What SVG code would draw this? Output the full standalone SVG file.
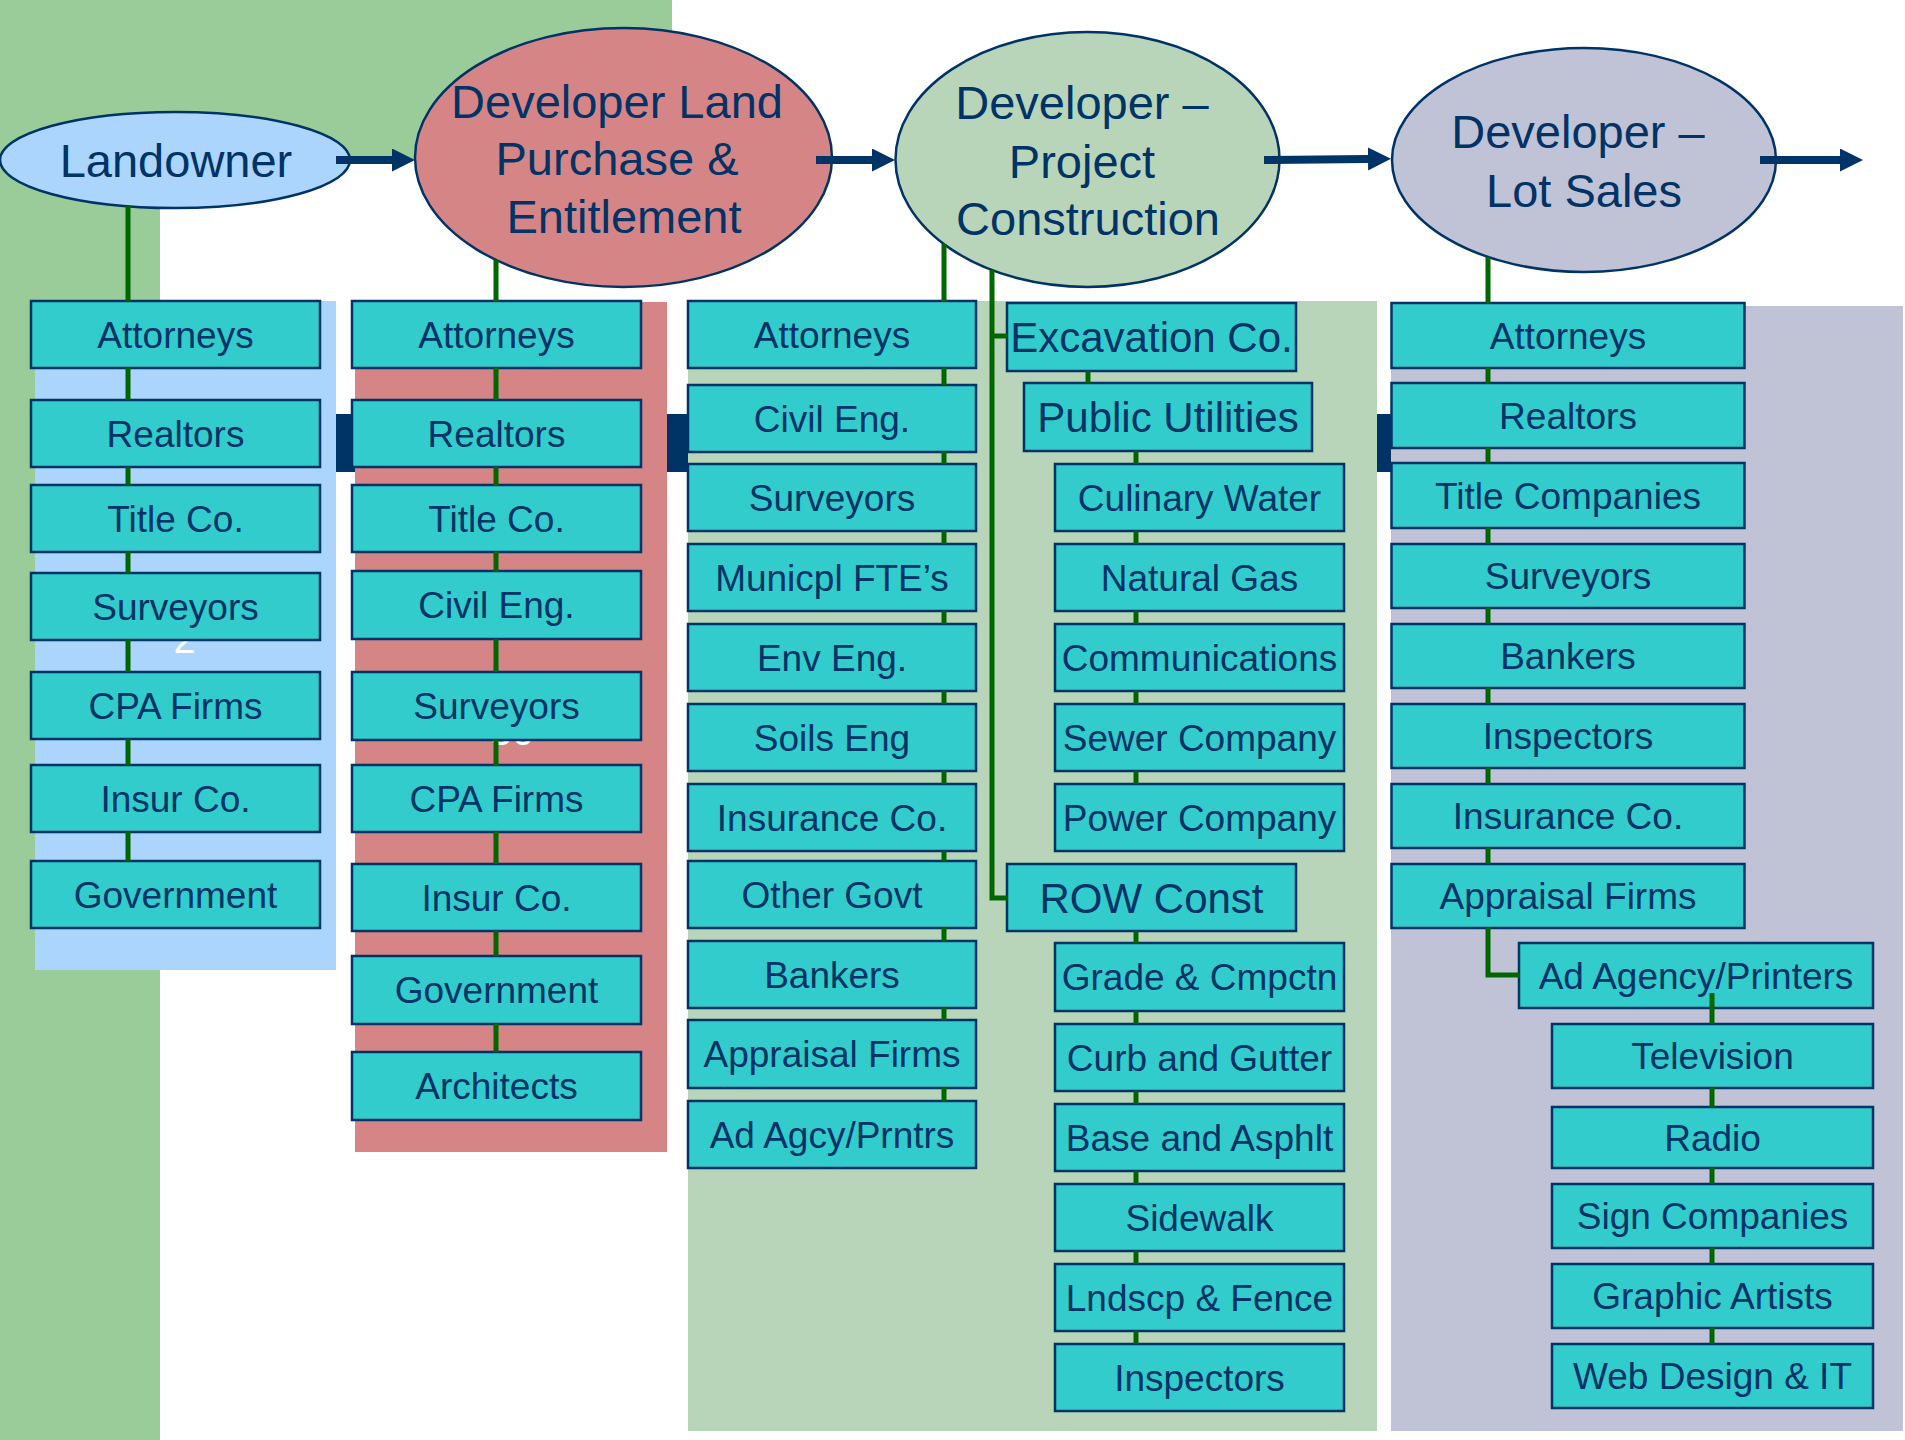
<svg xmlns="http://www.w3.org/2000/svg" width="1905" height="1440" viewBox="0 0 1905 1440">
<style>
.box{fill:#33CCCC;stroke:#003366;stroke-width:2.5}
.t{font-family:"Liberation Sans",Arial,sans-serif;font-size:37px;fill:#003366;text-anchor:middle}
.tb{font-size:42px}
.et{font-size:47px}
.ell{stroke:#003366;stroke-width:2.5}
.conn{stroke:#006600;stroke-width:5;fill:none}
.arrow{stroke:#003366;stroke-width:8;fill:none;marker-end:url(#ah)}
.ghost{font-family:"Liberation Sans",Arial,sans-serif;font-size:40px;fill:#FFFFFF;text-anchor:middle}
</style>
<defs>
<marker id="ah" markerUnits="userSpaceOnUse" markerWidth="24" markerHeight="24" refX="0" refY="11.5" orient="auto">
<path d="M0,0 L23,11.5 L0,23 Z" fill="#003366"/>
</marker>
</defs>
<g id="background">
<rect x="0" y="0" width="1905" height="1440" fill="#FFFFFF"/>
<path d="M0,0 H672 V160 H172 C162,160 160,190 160,214 V1440 H0 Z" fill="#99CC99"/>
<rect x="336" y="414" width="1056" height="58" fill="#003366"/>
<rect x="35" y="301" width="301" height="669" fill="#ABD5FD"/>
<rect x="355" y="302" width="312" height="850" fill="#D68587"/>
<rect x="688" y="301" width="689" height="1130" fill="#B8D5BA"/>
<rect x="1391" y="306" width="512" height="1125" fill="#C0C2D6"/>
<text class="ghost" x="184.5" y="653">2</text>
<text class="ghost" x="512" y="745">30</text>
</g>
<g id="landowner-col">
<g id="lo-attorneys"><rect class="box" x="31" y="301" width="289" height="67"/><text class="t" x="175.5" y="347.5">Attorneys</text></g>
<g id="lo-realtors"><rect class="box" x="31" y="400" width="289" height="67"/><text class="t" x="175.5" y="446.5">Realtors</text></g>
<g id="lo-title"><rect class="box" x="31" y="485" width="289" height="67"/><text class="t" x="175.5" y="531.5">Title Co.</text></g>
<g id="lo-surveyors"><rect class="box" x="31" y="573" width="289" height="67"/><text class="t" x="175.5" y="619.5">Surveyors</text></g>
<g id="lo-cpa"><rect class="box" x="31" y="672" width="289" height="67"/><text class="t" x="175.5" y="718.5">CPA Firms</text></g>
<g id="lo-insur"><rect class="box" x="31" y="765" width="289" height="67"/><text class="t" x="175.5" y="811.5">Insur Co.</text></g>
<g id="lo-gov"><rect class="box" x="31" y="861" width="289" height="67"/><text class="t" x="175.5" y="907.5">Government</text></g>
</g>
<g id="purchase-col">
<g id="pu-attorneys"><rect class="box" x="352" y="301" width="289" height="67"/><text class="t" x="496.5" y="347.5">Attorneys</text></g>
<g id="pu-realtors"><rect class="box" x="352" y="400" width="289" height="67"/><text class="t" x="496.5" y="446.5">Realtors</text></g>
<g id="pu-title"><rect class="box" x="352" y="485" width="289" height="67"/><text class="t" x="496.5" y="531.5">Title Co.</text></g>
<g id="pu-civil"><rect class="box" x="352" y="571" width="289" height="68"/><text class="t" x="496.5" y="618">Civil Eng.</text></g>
<g id="pu-surveyors"><rect class="box" x="352" y="672" width="289" height="68"/><text class="t" x="496.5" y="719">Surveyors</text></g>
<g id="pu-cpa"><rect class="box" x="352" y="765" width="289" height="67"/><text class="t" x="496.5" y="811.5">CPA Firms</text></g>
<g id="pu-insur"><rect class="box" x="352" y="864" width="289" height="67"/><text class="t" x="496.5" y="910.5">Insur Co.</text></g>
<g id="pu-gov"><rect class="box" x="352" y="956" width="289" height="68"/><text class="t" x="496.5" y="1003">Government</text></g>
<g id="pu-arch"><rect class="box" x="352" y="1052" width="289" height="68"/><text class="t" x="496.5" y="1099">Architects</text></g>
</g>
<g id="construction-col">
<g id="co-attorneys"><rect class="box" x="688" y="301" width="288" height="67"/><text class="t" x="832" y="347.5">Attorneys</text></g>
<g id="co-civil"><rect class="box" x="688" y="385" width="288" height="67"/><text class="t" x="832" y="431.5">Civil Eng.</text></g>
<g id="co-surveyors"><rect class="box" x="688" y="464" width="288" height="67"/><text class="t" x="832" y="510.5">Surveyors</text></g>
<g id="co-municipal"><rect class="box" x="688" y="544" width="288" height="67"/><text class="t" x="832" y="590.5">Municpl FTE’s</text></g>
<g id="co-env"><rect class="box" x="688" y="624" width="288" height="67"/><text class="t" x="832" y="670.5">Env Eng.</text></g>
<g id="co-soils"><rect class="box" x="688" y="704" width="288" height="67"/><text class="t" x="832" y="750.5">Soils Eng</text></g>
<g id="co-insurance"><rect class="box" x="688" y="784" width="288" height="67"/><text class="t" x="832" y="830.5">Insurance Co.</text></g>
<g id="co-govt"><rect class="box" x="688" y="861" width="288" height="67"/><text class="t" x="832" y="907.5">Other Govt</text></g>
<g id="co-bankers"><rect class="box" x="688" y="941" width="288" height="67"/><text class="t" x="832" y="987.5">Bankers</text></g>
<g id="co-appraisal"><rect class="box" x="688" y="1020" width="288" height="68"/><text class="t" x="832" y="1067">Appraisal Firms</text></g>
<g id="co-ad"><rect class="box" x="688" y="1101" width="288" height="67"/><text class="t" x="832" y="1147.5">Ad Agcy/Prntrs</text></g>
<g id="co-excavation"><rect class="box" x="1007" y="303" width="289" height="68"/><text class="t tb" x="1151.5" y="352">Excavation Co.</text></g>
<g id="co-utilities"><rect class="box" x="1024" y="383" width="288" height="68"/><text class="t tb" x="1168" y="432">Public Utilities</text></g>
<g id="co-water"><rect class="box" x="1055" y="464" width="289" height="67"/><text class="t" x="1199.5" y="510.5">Culinary Water</text></g>
<g id="co-gas"><rect class="box" x="1055" y="544" width="289" height="67"/><text class="t" x="1199.5" y="590.5">Natural Gas</text></g>
<g id="co-comm"><rect class="box" x="1055" y="624" width="289" height="67"/><text class="t" x="1199.5" y="670.5">Communications</text></g>
<g id="co-sewer"><rect class="box" x="1055" y="704" width="289" height="67"/><text class="t" x="1199.5" y="750.5">Sewer Company</text></g>
<g id="co-power"><rect class="box" x="1055" y="784" width="289" height="67"/><text class="t" x="1199.5" y="830.5">Power Company</text></g>
<g id="co-row"><rect class="box" x="1007" y="864" width="289" height="67"/><text class="t tb" x="1151.5" y="912.5">ROW Const</text></g>
<g id="co-grade"><rect class="box" x="1055" y="943" width="289" height="68"/><text class="t" x="1199.5" y="990">Grade &amp; Cmpctn</text></g>
<g id="co-curb"><rect class="box" x="1055" y="1024" width="289" height="67"/><text class="t" x="1199.5" y="1070.5">Curb and Gutter</text></g>
<g id="co-base"><rect class="box" x="1055" y="1104" width="289" height="67"/><text class="t" x="1199.5" y="1150.5">Base and Asphlt</text></g>
<g id="co-sidewalk"><rect class="box" x="1055" y="1184" width="289" height="67"/><text class="t" x="1199.5" y="1230.5">Sidewalk</text></g>
<g id="co-landscape"><rect class="box" x="1055" y="1264" width="289" height="67"/><text class="t" x="1199.5" y="1310.5">Lndscp &amp; Fence</text></g>
<g id="co-inspectors"><rect class="box" x="1055" y="1344" width="289" height="67"/><text class="t" x="1199.5" y="1390.5">Inspectors</text></g>
</g>
<g id="sales-col">
<g id="ls-attorneys"><rect class="box" x="1391.5" y="303" width="353" height="65"/><text class="t" x="1568" y="348.5">Attorneys</text></g>
<g id="ls-realtors"><rect class="box" x="1391.5" y="383" width="353" height="65"/><text class="t" x="1568" y="428.5">Realtors</text></g>
<g id="ls-title"><rect class="box" x="1391.5" y="463" width="353" height="65"/><text class="t" x="1568" y="508.5">Title Companies</text></g>
<g id="ls-surveyors"><rect class="box" x="1391.5" y="544" width="353" height="64"/><text class="t" x="1568" y="589">Surveyors</text></g>
<g id="ls-bankers"><rect class="box" x="1391.5" y="624" width="353" height="64"/><text class="t" x="1568" y="669">Bankers</text></g>
<g id="ls-inspectors"><rect class="box" x="1391.5" y="704" width="353" height="64"/><text class="t" x="1568" y="749">Inspectors</text></g>
<g id="ls-insurance"><rect class="box" x="1391.5" y="784" width="353" height="64"/><text class="t" x="1568" y="829">Insurance Co.</text></g>
<g id="ls-appraisal"><rect class="box" x="1391.5" y="864" width="353" height="64"/><text class="t" x="1568" y="909">Appraisal Firms</text></g>
<g id="ls-ad"><rect class="box" x="1519" y="943" width="354" height="65"/><text class="t" x="1696" y="988.5">Ad Agency/Printers</text></g>
<g id="ls-tv"><rect class="box" x="1552" y="1024" width="321" height="64"/><text class="t" x="1712.5" y="1069">Television</text></g>
<g id="ls-radio"><rect class="box" x="1552" y="1107" width="321" height="61"/><text class="t" x="1712.5" y="1150.5">Radio</text></g>
<g id="ls-sign"><rect class="box" x="1552" y="1184" width="321" height="64"/><text class="t" x="1712.5" y="1229">Sign Companies</text></g>
<g id="ls-graphic"><rect class="box" x="1552" y="1264" width="321" height="64"/><text class="t" x="1712.5" y="1309">Graphic Artists</text></g>
<g id="ls-web"><rect class="box" x="1552" y="1344" width="321" height="64"/><text class="t" x="1712.5" y="1389">Web Design &amp; IT</text></g>
</g>
<g id="stages">
<g id="landowner"><ellipse class="ell" cx="175" cy="160" rx="175" ry="48" fill="#ABD5FD"/><text class="t et" x="176" y="177">Landowner</text></g>
<g id="purchase"><ellipse class="ell" cx="623.5" cy="157.5" rx="208.5" ry="129.5" fill="#D68587"/>
<text class="t et" x="617" y="118">Developer Land</text><text class="t et" x="617" y="175">Purchase &amp;</text><text class="t et" x="624" y="233">Entitlement</text></g>
<g id="construction"><ellipse class="ell" cx="1087.5" cy="159.5" rx="192" ry="127.5" fill="#B8D5BA"/>
<text class="t et" x="1082" y="119">Developer –</text><text class="t et" x="1082" y="178">Project</text><text class="t et" x="1088" y="235">Construction</text></g>
<g id="sales"><ellipse class="ell" cx="1584" cy="160" rx="192" ry="112" fill="#C0C2D6"/>
<text class="t et" x="1578" y="148">Developer –</text><text class="t et" x="1584" y="207">Lot Sales</text></g>
</g>
<g id="connectors">
<path class="conn" d="M128,206 V301 M128,368 V400 M128,467 V485 M128,552 V573 M128,640 V672 M128,739 V765 M128,832 V861"/>
<path class="conn" d="M496,260 V301 M496,368 V400 M496,467 V485 M496,552 V571 M496,639 V672 M496,740 V765 M496,832 V864 M496,931 V956 M496,1024 V1052"/>
<path class="conn" d="M944,244 V301 M944,368 V385 M944,452 V464 M944,531 V544 M944,611 V624 M944,691 V704 M944,771 V784 M944,851 V861 M944,928 V941 M944,1008 V1020 M944,1088 V1101"/>
<path class="conn" d="M992,270 V898 H1007 M992,336 H1007"/>
<path class="conn" d="M1088,371 V383"/>
<path class="conn" d="M1136,451 V464 M1136,531 V544 M1136,611 V624 M1136,691 V704 M1136,771 V784"/>
<path class="conn" d="M1136,931 V943 M1136,1011 V1024 M1136,1091 V1104 M1136,1171 V1184 M1136,1251 V1264 M1136,1331 V1344"/>
<path class="conn" d="M1488,257 V303 M1488,368 V383 M1488,448 V463 M1488,528 V544 M1488,608 V624 M1488,688 V704 M1488,768 V784 M1488,848 V864 M1488,928 V975 H1519"/>
<path class="conn" d="M1712,993 V1024 M1712,1088 V1107 M1712,1168 V1184 M1712,1248 V1264 M1712,1328 V1344"/>
<line class="arrow" x1="336" y1="160" x2="392" y2="160"/>
<line class="arrow" x1="816" y1="160" x2="872" y2="160"/>
<line class="arrow" x1="1264" y1="160" x2="1368" y2="159"/>
<line class="arrow" x1="1760" y1="160" x2="1840" y2="160"/>
</g>
</svg>
